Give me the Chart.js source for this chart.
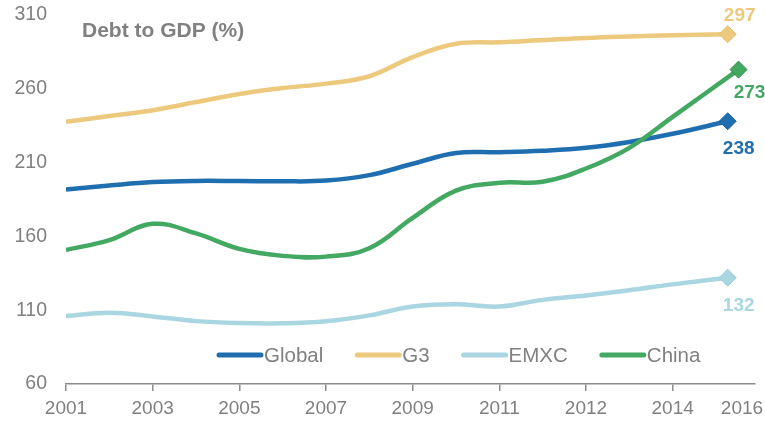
<!DOCTYPE html>
<html>
<head>
<meta charset="utf-8">
<script src="https://cdn.jsdelivr.net/npm/chart.js@4/dist/chart.umd.min.js"></script>
<style>
  html, body { margin: 0; padding: 0; background: #fff; }
  #wrap { position: relative; width: 765px; height: 421px; }
</style>
</head>
<body>
<div id="wrap"><canvas id="c"></canvas></div>
<script>
// period index along the x axis (last point is the latest reading)
const pos = [0, 1, 2, 3, 4, 5, 6, 7, 8, 9, 10, 11, 12, 13, 14, 15.27];
const posChina = [0, 1, 2, 3, 4, 5, 6, 7, 8, 9, 10, 11, 12, 13, 14, 15.52];

const globalVals = [191.8, 194.5, 196.8, 197.6, 197.5, 197.3, 197.8, 201.5, 209.2, 216.5, 217, 218, 220, 224, 229.5, 238];
const g3Vals = [237.7, 241.5, 245.5, 251, 256.5, 260.5, 263.5, 268.5, 281.5, 290.5, 291.5, 293, 294.5, 295.5, 296.3, 297];
const emxcVals = [106.1, 108.3, 105.8, 102.6, 101.3, 101.1, 102.5, 106.5, 112.5, 114, 112.5, 117, 120, 123.5, 127.5, 132];
const chinaVals = [150.8, 157.5, 168.5, 162, 151.5, 146.8, 146.3, 152, 172.5, 191, 196.3, 197, 206, 220, 241, 273];

const tickPos = [0, 2, 4, 6, 8, 10, 12, 14, 15.6];
const tickLabels = ['2001', '2003', '2005', '2007', '2009', '2011', '2012', '2014', '2016'];

const FONT = '"Liberation Sans", Arial, sans-serif';
const GREY = '#808080';

function pts(xs, ys) { return ys.map((y, i) => ({ x: xs[i], y })); }

function series(label, xs, ys, color, edge, extra) {
  return Object.assign({
    label,
    data: pts(xs, ys),
    borderColor: color,
    backgroundColor: color,
    borderWidth: 4.5,
    tension: 0.4,
    pointStyle: 'rectRot',
    pointBorderColor: edge,
    pointBorderWidth: 1,
    pointRadius: (c) => c.dataIndex === c.dataset.data.length - 1 ? 8.5 : 0,
    pointHoverRadius: (c) => c.dataIndex === c.dataset.data.length - 1 ? 8.5 : 0,
  }, extra || {});
}

// heading in the top left corner of the plot
const headingPlugin = {
  id: 'heading',
  afterDraw(chart) {
    const ctx = chart.ctx;
    ctx.save();
    ctx.font = 'bold 21px ' + FONT;
    ctx.fillStyle = GREY;
    ctx.textBaseline = 'middle';
    ctx.fillText('Debt to GDP (%)', 82, 31);
    ctx.restore();
  }
};

// value of the last point next to its marker
const endLabels = {
  id: 'endLabels',
  afterDatasetsDraw(chart) {
    const ctx = chart.ctx;
    ctx.save();
    ctx.font = 'bold 19px ' + FONT;
    ctx.textAlign = 'center';
    ctx.textBaseline = 'middle';
    chart.data.datasets.forEach((ds, i) => {
      const meta = chart.getDatasetMeta(i);
      const last = meta.data[meta.data.length - 1];
      const v = ds.data[ds.data.length - 1].y;
      const off = ds.labelOffset;
      ctx.fillStyle = ds.borderColor;
      ctx.fillText(String(Math.round(v)), last.x + off[0], last.y + off[1]);
    });
    ctx.restore();
  }
};

// line-swatch legend inside the plot, above the x axis
const lineLegend = {
  id: 'lineLegend',
  afterDraw(chart) {
    const ctx = chart.ctx;
    ctx.save();
    ctx.font = '20.5px ' + FONT;
    ctx.textBaseline = 'middle';
    let x = 217;
    const y = 355;
    chart.data.datasets.forEach((ds) => {
      ctx.strokeStyle = ds.borderColor;
      ctx.lineWidth = 5;
      ctx.lineCap = 'round';
      ctx.beginPath();
      ctx.moveTo(x + 2, y);
      ctx.lineTo(x + 44, y);
      ctx.stroke();
      ctx.fillStyle = GREY;
      ctx.fillText(ds.label, x + 47, y + 1);
      x += 47 + ctx.measureText(ds.label).width + 32;
    });
    ctx.restore();
  }
};

new Chart(document.getElementById('c'), {
  type: 'line',
  data: {
    datasets: [
      series('Global', pos, globalVals, '#1f6fb0', '#1a609a', { labelOffset: [11, 27] }),
      series('G3', pos, g3Vals, '#ecc97c', '#e2bc68', { labelOffset: [12, -18] }),
      series('EMXC', pos, emxcVals, '#a9d6e1', '#9ccbd7', { labelOffset: [11, 28] }),
      series('China', posChina, chinaVals, '#43a862', '#2f8a4c', { labelOffset: [11, 23], order: -1 }),
    ]
  },
  options: {
    responsive: true,
    maintainAspectRatio: false,
    animation: false,
    layout: { padding: { top: 15, right: 10, left: 0, bottom: 0 } },
    plugins: { legend: { display: false }, tooltip: { enabled: false } },
    scales: {
      x: {
        type: 'linear',
        min: 0,
        max: 15.9,
        afterBuildTicks: (s) => { s.ticks = tickPos.map((v) => ({ value: v })); },
        afterFit: (s) => { s.height = 37; s.paddingLeft = 0; s.paddingRight = 0; },
        ticks: {
          autoSkip: false,
          maxRotation: 0,
          padding: 6,
          color: GREY,
          font: { family: FONT, size: 19 },
          callback: (v, i) => tickLabels[i],
        },
        grid: {
          drawOnChartArea: false,
          drawTicks: true,
          tickLength: 7,
          lineWidth: 1.5,
          color: (c) => c.index === tickPos.length - 1 ? 'rgba(0,0,0,0)' : '#8c8c8c',
        },
        border: { display: true, color: '#8c8c8c', width: 1.5 },
      },
      y: {
        min: 60,
        max: 310,
        afterFit: (s) => { s.width = 66; s.paddingTop = 0; },
        ticks: {
          stepSize: 50,
          padding: 11,
          color: GREY,
          font: { family: FONT, size: 19.5 },
        },
        grid: { display: false },
        border: { display: false },
      }
    }
  },
  plugins: [headingPlugin, endLabels, lineLegend]
});
</script>
</body>
</html>
